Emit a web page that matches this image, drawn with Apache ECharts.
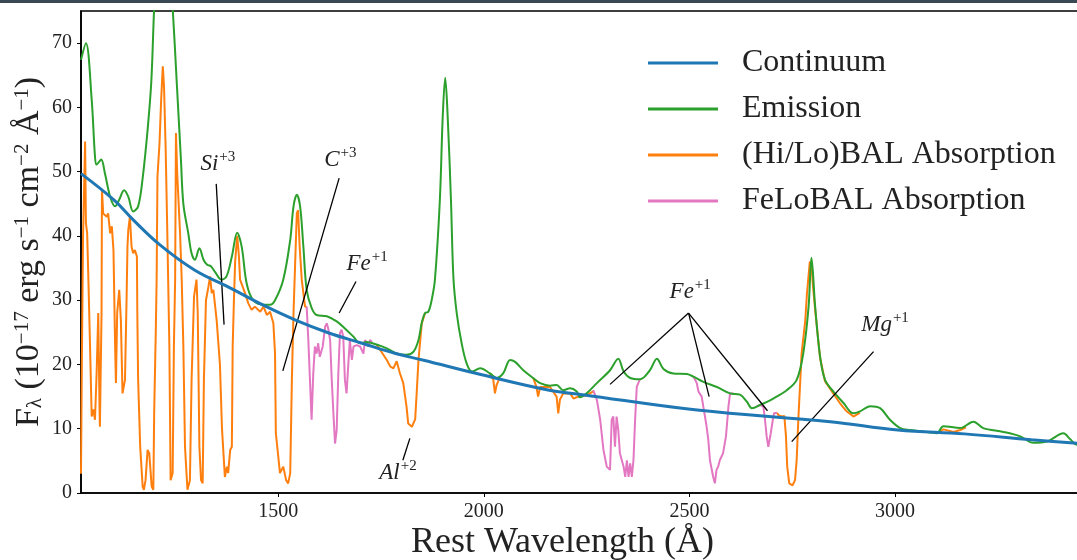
<!DOCTYPE html>
<html>
<head>
<meta charset="utf-8">
<title>Quasar spectrum components</title>
<script src="https://cdn.jsdelivr.net/npm/echarts@6.0.0/dist/echarts.min.js"></script>
<style>
  html, body { margin: 0; padding: 0; background: #ffffff; }
  #topbar { position: absolute; left: 0; top: 0; width: 1077px; height: 3px; background: #3a4854; z-index: 5; }
  #chart { width: 1077px; height: 560px; }
</style>
</head>
<body>
<div id="topbar"></div>
<div id="chart"></div>
<script>
// Rest wavelength (Å) and flux (1e-17 erg/s/cm^2/Å) pairs

const continuum = [
  [1020, 49.7], [1100, 45.6], [1147, 42.5], [1212, 38.6], [1296, 34.7],
  [1380, 32.0], [1461, 29.3], [1542, 26.9], [1623, 24.9], [1704, 23.3],
  [1785, 21.7], [1851, 20.7], [1995, 18.4], [2159, 16.0], [2240, 15.3],
  [2519, 12.9], [2843, 11.1], [3007, 9.8], [3169, 9.2], [3332, 8.3],
  [3470, 7.6]
];

const emission = [
  [1020, 67.4], [1032, 70.0], [1046, 61.2], [1054, 52.4], [1058, 51.1],
  [1069, 51.9], [1078, 49.8], [1091, 46.1], [1103, 44.6], [1112, 45.5],
  [1125, 47.1], [1135, 46.1], [1147, 43.8], [1159, 44.6], [1170, 49.0],
  [1182, 56.5], [1191, 64.0], [1198, 75.5], [1207, 86.0], [1220, 95.0],
  [1232, 86.0], [1243, 75.5], [1253, 63.8], [1263, 52.0], [1269, 45.0],
  [1281, 40.4], [1289, 37.3], [1297, 36.3], [1308, 38.1], [1318, 36.3],
  [1327, 35.5], [1336, 35.3], [1346, 34.4], [1362, 33.2], [1374, 33.7],
  [1387, 36.8], [1400, 40.5], [1411, 38.3], [1423, 32.6], [1439, 30.0],
  [1464, 29.3], [1480, 29.3], [1492, 30.0], [1512, 33.2], [1529, 39.4],
  [1537, 44.6], [1545, 46.4], [1553, 44.6], [1561, 38.3], [1569, 31.6],
  [1581, 28.8], [1593, 27.7], [1618, 27.5], [1642, 26.7], [1662, 25.6],
  [1683, 24.3], [1699, 23.3], [1715, 23.5], [1739, 23.1], [1764, 22.5],
  [1788, 21.7], [1812, 21.5], [1829, 22.0], [1841, 23.8], [1849, 26.5],
  [1857, 28.0], [1865, 28.2], [1873, 30.0], [1881, 33.2], [1893, 45.6],
  [1900, 58.6], [1906, 64.6], [1912, 58.6], [1920, 45.6], [1926, 33.5],
  [1934, 28.0], [1946, 23.3], [1958, 20.2], [1971, 18.9], [1991, 19.4],
  [2015, 18.6], [2031, 17.9], [2047, 18.6], [2064, 20.7], [2076, 20.4],
  [2096, 19.1], [2120, 17.9], [2137, 17.1], [2161, 16.7], [2177, 16.8],
  [2193, 16.0], [2210, 16.3], [2226, 15.8], [2234, 14.9], [2250, 15.5],
  [2275, 17.1], [2307, 19.1], [2327, 20.9], [2340, 18.9], [2356, 17.9],
  [2380, 17.7], [2404, 19.1], [2421, 20.9], [2437, 19.3], [2461, 18.6],
  [2494, 18.5], [2510, 18.1], [2534, 17.3], [2567, 16.5], [2599, 15.5],
  [2623, 15.3], [2640, 14.2], [2652, 13.2], [2672, 13.7], [2704, 14.7],
  [2737, 16.0], [2761, 17.6], [2777, 21.7], [2790, 29.0], [2797, 36.6],
  [2806, 29.0], [2818, 21.2], [2830, 17.6], [2850, 15.8], [2875, 14.0],
  [2899, 12.4], [2915, 12.7], [2940, 13.5], [2964, 13.2], [2988, 11.4],
  [3013, 10.1], [3037, 9.8], [3078, 9.5], [3102, 9.3], [3118, 10.4],
  [3159, 10.1], [3191, 11.1], [3215, 10.1], [3264, 9.5], [3305, 8.8],
  [3337, 7.8], [3370, 8.0], [3410, 9.3], [3426, 8.4], [3443, 7.5],
  [3475, 7.4]
];

// (Hi/Lo)BAL absorbed spectrum, one array per visible stretch
const hiLoBalSegments = [
  [
    [1020, 3.0], [1022, 20.0], [1025, 40.0], [1030, 54.7], [1032, 42.0],
    [1035, 40.4], [1038, 33.2], [1042, 22.8], [1046, 11.9], [1050, 13.0],
    [1054, 11.4], [1058, 18.6], [1062, 28.0], [1065, 13.4], [1066, 10.3],
    [1070, 28.0], [1071, 47.2], [1074, 43.5], [1083, 43.0], [1086, 43.5],
    [1091, 40.4], [1095, 41.5], [1099, 37.8], [1103, 22.8], [1105, 17.1],
    [1108, 28.0], [1113, 31.6], [1117, 26.9], [1121, 15.5], [1127, 17.6],
    [1131, 30.6], [1133, 38.3], [1135, 40.9], [1139, 43.0], [1143, 38.3],
    [1147, 37.3], [1151, 37.8], [1156, 36.8], [1157, 28.0], [1159, 17.6],
    [1164, 7.2], [1170, 1.0], [1173, 0.5], [1177, 2.0], [1182, 6.7],
    [1186, 6.2], [1192, 1.0], [1196, 0.5], [1198, 12.4], [1202, 25.4],
    [1204, 33.2], [1206, 49.2], [1211, 54.4], [1215, 61.2], [1219, 66.4],
    [1222, 63.2], [1226, 53.4], [1228, 53.4], [1230, 40.4], [1235, 22.8],
    [1238, 2.0], [1243, 3.1], [1246, 22.8], [1249, 33.2], [1251, 56.0],
    [1254, 49.8], [1261, 40.4], [1265, 33.2], [1269, 22.8], [1273, 7.2],
    [1279, 0.5], [1285, 2.0], [1289, 17.6], [1295, 30.6], [1301, 33.2],
    [1304, 28.0], [1308, 7.2], [1312, 2.0], [1316, 1.5], [1319, 17.6],
    [1324, 30.0], [1330, 32.1], [1334, 33.7], [1338, 31.1], [1342, 31.6],
    [1350, 26.9], [1358, 20.0], [1363, 10.0], [1370, 2.5], [1375, 4.1],
    [1378, 3.1], [1383, 6.7], [1387, 7.2], [1389, 22.8], [1392, 30.0],
    [1395, 36.0], [1400, 40.0], [1404, 37.0], [1407, 33.2], [1419, 31.1],
    [1427, 29.5], [1435, 28.5], [1443, 29.0], [1456, 28.2], [1464, 29.0],
    [1472, 27.7], [1480, 28.2], [1488, 26.4], [1492, 21.7], [1494, 9.3],
    [1500, 5.6], [1504, 3.1], [1512, 4.1], [1519, 2.0], [1524, 1.5],
    [1529, 3.1], [1533, 17.6], [1537, 28.0], [1541, 35.8], [1545, 43.5],
    [1548, 44.0], [1552, 38.3], [1557, 33.2], [1565, 29.0], [1569, 29.0]
  ],
  [
    [1739, 23.1], [1764, 20.7], [1772, 19.7], [1780, 19.4], [1788, 20.5],
    [1796, 18.6], [1804, 17.1], [1812, 13.4], [1816, 10.8], [1825, 10.3],
    [1833, 11.5], [1837, 16.0], [1841, 20.7], [1849, 26.4], [1857, 28.0]
  ],
  [
    [2015, 18.6], [2023, 17.6], [2027, 15.5], [2031, 16.8], [2039, 18.0]
  ],
  [
    [2120, 17.9], [2128, 16.5], [2132, 15.0], [2137, 16.5], [2161, 16.5],
    [2177, 15.0], [2181, 12.4], [2185, 14.5], [2193, 15.5], [2210, 15.5],
    [2218, 14.7], [2230, 15.0], [2250, 15.2], [2266, 15.8]
  ],
  [
    [2713, 12.5], [2717, 12.1], [2725, 11.9], [2731, 12.0], [2735, 8.8],
    [2738, 4.1], [2743, 1.5], [2751, 1.2], [2757, 2.0], [2761, 5.1],
    [2765, 11.4], [2769, 16.5], [2773, 21.7], [2782, 26.9], [2786, 31.0],
    [2793, 36.0], [2797, 35.5], [2801, 32.0], [2806, 28.5], [2818, 21.0],
    [2830, 17.4], [2850, 15.5], [2866, 14.0], [2881, 12.8], [2899, 11.9],
    [2915, 12.5]
  ],
  [
    [3102, 9.3], [3118, 9.9], [3143, 9.5], [3159, 9.8], [3173, 10.2]
  ]
];

// FeLoBAL absorbed spectrum, one array per trough
const feLoBalSegments = [
  [
    [1569, 29.0], [1573, 23.8], [1577, 17.6], [1581, 11.4], [1585, 18.6],
    [1589, 22.8], [1593, 21.7], [1597, 23.3], [1601, 21.2], [1608, 22.8],
    [1614, 25.9], [1618, 26.4], [1622, 25.4], [1626, 23.8], [1630, 17.6],
    [1634, 12.4], [1638, 7.7], [1642, 9.8], [1646, 18.6], [1650, 24.9],
    [1654, 25.4], [1658, 24.3], [1662, 17.6], [1666, 15.5], [1670, 19.7],
    [1674, 23.8], [1679, 20.7], [1683, 22.8], [1691, 23.0], [1699, 22.8],
    [1707, 21.7], [1711, 23.8], [1719, 22.8], [1723, 23.8], [1728, 23.5]
  ],
  [
    [2266, 16.0], [2275, 14.5], [2283, 11.4], [2291, 6.7], [2299, 4.1],
    [2307, 3.6], [2311, 11.4], [2315, 11.9], [2319, 7.2], [2323, 11.9],
    [2327, 9.8], [2331, 6.2], [2340, 4.1], [2344, 2.5], [2348, 5.1],
    [2352, 2.5], [2356, 4.6], [2360, 2.5], [2364, 5.1], [2368, 11.4],
    [2372, 16.5], [2379, 17.6]
  ],
  [
    [2510, 18.1], [2518, 17.1], [2522, 15.8], [2530, 15.0], [2534, 13.4],
    [2538, 11.9], [2542, 10.3], [2546, 8.3], [2550, 5.1], [2558, 2.5],
    [2562, 1.5], [2566, 3.6], [2570, 4.1], [2574, 5.1], [2582, 6.2],
    [2589, 8.8], [2595, 13.4], [2599, 15.5], [2607, 15.5]
  ],
  [
    [2664, 13.5], [2672, 13.7], [2680, 13.4], [2684, 11.4], [2688, 8.8],
    [2692, 7.2], [2698, 9.3], [2703, 11.4], [2706, 12.4], [2713, 12.5]
  ]
];

const xTicks = [1500, 2000, 2500, 3000];
const yTicks = [0, 10, 20, 30, 40, 50, 60, 70];

// Ion labels: [wavelength, flux] of the text, element, charge
const ionLabels = [
  [1353, 51.4, 'Si', '+3'],
  [1651, 52.0, 'C', '+3'],
  [1716, 35.9, 'Fe', '+1'],
  [1791, 3.4, 'Al', '+2'],
  [2502, 31.5, 'Fe', '+1'],
  [2976, 26.4, 'Mg', '+1']
];

// Pointer lines from each label to its absorption feature
const ionPointers = [
  [[1349, 48.1], [1368, 26.2]],
  [[1648, 49.0], [1511, 19.0]],
  [[1689, 32.9], [1648, 28.0]],
  [[1820, 8.5], [1803, 5.1]],
  [[2498, 28.0], [2307, 16.9]],
  [[2498, 28.0], [2548, 15.0]],
  [[2498, 28.0], [2690, 12.8]],
  [[2948, 22.0], [2749, 8.0]]
];

const SERIF = '"Liberation Serif", "DejaVu Serif", serif';
const COLORS = {
  continuum: '#1f77b4',
  emission: '#2ca02c',
  hiLo: '#ff7f0e',
  feLo: '#e377c2'
};

const series = [];

hiLoBalSegments.forEach(function (seg) {
  series.push({
    name: '(Hi/Lo)BAL Absorption',
    type: 'line',
    data: seg,
    showSymbol: false,
    symbol: 'none',
    lineStyle: { color: COLORS.hiLo, width: 2 },
    itemStyle: { color: COLORS.hiLo },
    z: 2
  });
});

feLoBalSegments.forEach(function (seg) {
  series.push({
    name: 'FeLoBAL Absorption',
    type: 'line',
    data: seg,
    showSymbol: false,
    symbol: 'none',
    lineStyle: { color: COLORS.feLo, width: 2 },
    itemStyle: { color: COLORS.feLo },
    z: 3
  });
});

series.push({
  name: 'Emission',
  type: 'line',
  data: emission,
  smooth: 0.35,
  showSymbol: false,
  symbol: 'none',
  lineStyle: { color: COLORS.emission, width: 2 },
  itemStyle: { color: COLORS.emission },
  z: 4
});

series.push({
  name: 'Continuum',
  type: 'line',
  data: continuum,
  smooth: 0.4,
  showSymbol: false,
  symbol: 'none',
  lineStyle: { color: COLORS.continuum, width: 3 },
  itemStyle: { color: COLORS.continuum },
  z: 5
});

// Annotation layer: labels and pointer lines in data coordinates
series.push({
  name: 'ions',
  type: 'line',
  data: [],
  silent: true,
  z: 6,
  markLine: {
    silent: true,
    symbol: ['none', 'none'],
    label: { show: false },
    lineStyle: { color: '#000000', width: 1.3, type: 'solid' },
    emphasis: { disabled: true },
    data: ionPointers.map(function (p) {
      return [{ coord: p[0] }, { coord: p[1] }];
    })
  },
  markPoint: {
    silent: true,
    symbol: 'circle',
    symbolSize: 1,
    itemStyle: { color: 'rgba(0,0,0,0)' },
    label: {
      show: true,
      position: 'inside',
      rich: {
        b: { fontFamily: SERIF, fontStyle: 'italic', fontSize: 23, lineHeight: 26, color: '#222', verticalAlign: 'bottom' },
        s: { fontFamily: SERIF, fontSize: 15, lineHeight: 15, color: '#222', verticalAlign: 'top', padding: [0, 0, 17, 1] }
      }
    },
    data: ionLabels.map(function (d) {
      return {
        coord: [d[0], d[1]],
        label: { formatter: '{b|' + d[2] + '}{s|' + d[3] + '}' }
      };
    })
  }
});

function plainNumber(v) { return String(v); }

const chart = echarts.init(document.getElementById('chart'), null, { renderer: 'canvas' });

chart.setOption({
  animation: false,
  backgroundColor: '#ffffff',
  grid: {
    left: 81,
    top: 11,
    width: 1003,
    height: 482,
    show: true,
    borderColor: '#000000',
    borderWidth: 1.6,
    containLabel: false,
    outerBoundsMode: 'none'
  },
  legend: {
    data: [
      { name: 'Continuum', itemStyle: { color: COLORS.continuum } },
      { name: 'Emission', itemStyle: { color: COLORS.emission } },
      { name: '(Hi/Lo)BAL Absorption', itemStyle: { color: COLORS.hiLo } },
      { name: 'FeLoBAL Absorption', itemStyle: { color: COLORS.feLo } }
    ],
    icon: 'rect',
    orient: 'vertical',
    left: 648,
    top: 45,
    padding: 0,
    itemWidth: 70,
    itemHeight: 3,
    itemGap: 10,
    selectedMode: false,
    textStyle: {
      fontFamily: SERIF,
      fontSize: 32,
      lineHeight: 36,
      color: '#222',
      padding: [0, 0, 0, 19]
    }
  },
  xAxis: {
    type: 'value',
    min: 1020,
    max: 3460,
    name: 'Rest Wavelength (Å)',
    nameLocation: 'middle',
    nameGap: 32,
    nameMoveOverlap: false,
    nameTextStyle: {
      fontFamily: SERIF,
      fontSize: 36,
      color: '#222',
      padding: [0, 40, 0, 0]
    },
    axisLine: { lineStyle: { color: '#000', width: 1.6 } },
    axisTick: { show: true, inside: false, length: 4, customValues: xTicks, lineStyle: { color: '#000', width: 1 } },
    axisLabel: { customValues: xTicks, formatter: plainNumber, margin: 9, fontFamily: SERIF, fontSize: 20, color: '#222' },
    splitLine: { show: false }
  },
  yAxis: {
    type: 'value',
    min: 0,
    max: 75,
    name: '{m|F}{sub|λ}{m| (10}{sup|−17}{m| erg s}{sup|−1}{m| cm}{sup|−2}{m| Å}{sup|−1}{m|)}',
    nameLocation: 'middle',
    nameRotate: 90,
    nameGap: 35,
    nameMoveOverlap: false,
    nameTextStyle: {
      fontFamily: SERIF,
      color: '#222',
      rich: {
        m: { fontFamily: SERIF, fontSize: 34, lineHeight: 34, color: '#222', verticalAlign: 'middle' },
        sub: { fontFamily: SERIF, fontSize: 21, lineHeight: 21, color: '#222', verticalAlign: 'bottom', padding: [22, 0, 0, 0] },
        sup: { fontFamily: SERIF, fontSize: 21, lineHeight: 21, color: '#222', verticalAlign: 'top', padding: [0, 0, 22, 0] }
      }
    },
    axisLine: { show: true, lineStyle: { color: '#000', width: 1.6 } },
    axisTick: { show: true, inside: false, length: 4, customValues: yTicks, lineStyle: { color: '#000', width: 1 } },
    axisLabel: { customValues: yTicks, formatter: plainNumber, margin: 9, fontFamily: SERIF, fontSize: 20, color: '#222' },
    splitLine: { show: false }
  },
  series: series
});
</script>
</body>
</html>
